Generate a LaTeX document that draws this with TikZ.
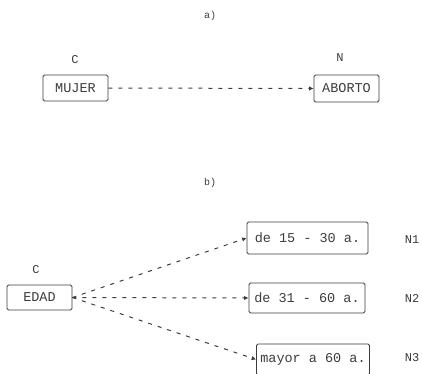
\documentclass[tikz,border=0pt]{standalone}
\usepackage{fontspec}
\setmonofont{Liberation Mono}
\usetikzlibrary{arrows.meta,positioning}
\definecolor{InkGray}{HTML}{3C3C3C}

\begin{document}
\begin{tikzpicture}[x=1pt,y=-1pt,
  caja/.style={draw=InkGray,line width=0.8pt,rounded corners=1.5pt,inner xsep=3pt,
    font=\ttfamily\fontsize{13.5}{15}\selectfont,text=InkGray},
  etiq/.style={font=\ttfamily\fontsize{12}{14}\selectfont,text=InkGray},
  flecha/.style={draw=InkGray,line width=1pt,dash pattern=on 4pt off 6pt,
    -{Latex[length=4.5pt,width=4.5pt]}}]
  \useasboundingbox (0,0) rectangle (422,373);

  % a)
  \node[etiq,font=\ttfamily\fontsize{10}{12}\selectfont] (tA) at (210,16) {a)};
  \node[caja,minimum width=65pt,minimum height=26pt] (mujer) at (75.5,88) {MUJER};
  \node[caja,minimum width=65pt,minimum height=27pt] (aborto) at (346.5,88.5) {ABORTO};
  \node[etiq] (cA) at (75,60) {C};
  \node[etiq] (nA) at (340,58) {N};
  \draw[flecha] (mujer.east) -- (aborto.west);

  % b)
  \node[etiq,font=\ttfamily\fontsize{10}{12}\selectfont] (tB) at (210,183) {b)};
  \node[caja,minimum width=65pt,minimum height=25pt] (edad) at (39.5,297.5) {EDAD};
  \node[etiq] (cB) at (36,270) {C};
  \node[caja,minimum width=121pt,minimum height=32pt] (r1) at (307.5,238) {de 15 - 30 a.};
  \node[caja,minimum width=116pt,minimum height=30pt] (r2) at (307,298) {de 31 - 60 a.};
  \node[caja,minimum width=113pt,minimum height=31pt] (r3) at (313,359.5) {mayor a 60 a.};
  \node[etiq] (n1) at (412,240) {N1};
  \node[etiq] (n2) at (412,298) {N2};
  \node[etiq] (n3) at (412,358) {N3};
  \draw[flecha] (edad.east) -- (r1.west);
  \draw[flecha] (edad.east) -- (r2.west);
  \draw[flecha] (edad.east) -- (r3.west);
\end{tikzpicture}
\end{document}
